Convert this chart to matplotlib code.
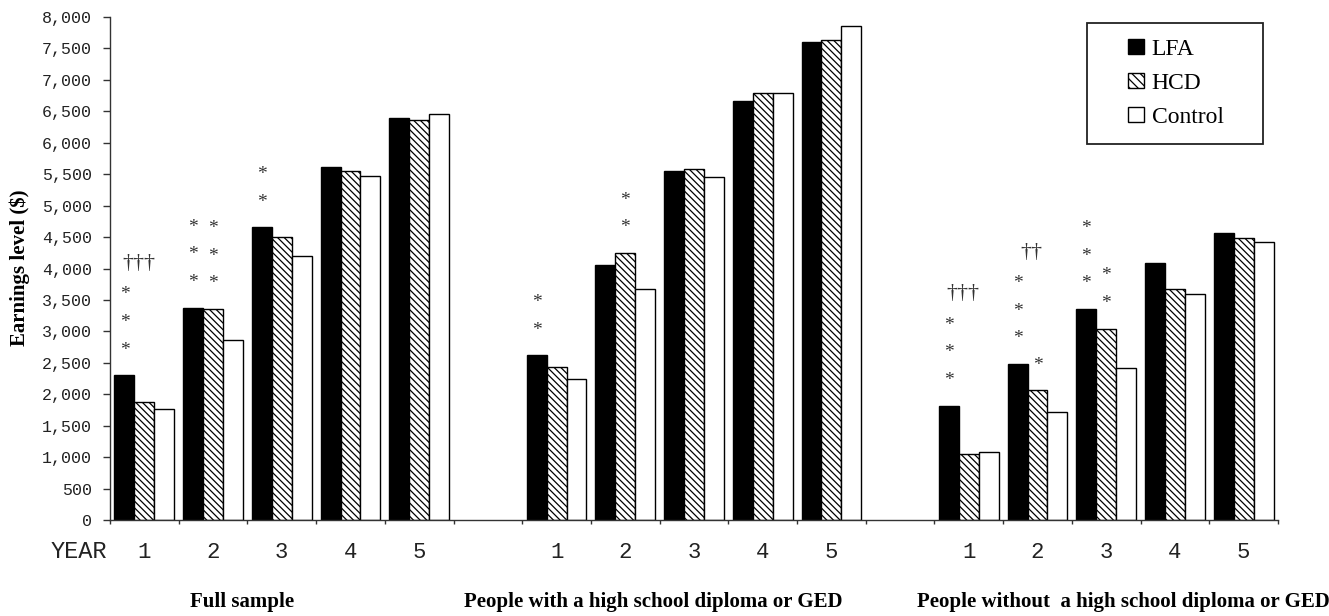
import matplotlib
matplotlib.use("Agg")
import matplotlib.pyplot as plt
import numpy as np
from matplotlib.patches import Patch, Rectangle
from matplotlib.transforms import blended_transform_factory

# ---------------- data ----------------
groups = ["Full sample",
          "People with a high school diploma or GED",
          "People without  a high school diploma or GED"]
years = ["1", "2", "3", "4", "5"]
series = ["LFA", "HCD", "Control"]

lfa_full = [2300, 3375, 4655, 5610, 6395]
hcd_full = [1870, 3355, 4505, 5550, 6360]
ctl_full = [1760, 2860, 4195, 5470, 6455]

lfa_hs = [2620, 4060, 5555, 6665, 7605]
hcd_hs = [2440, 4245, 5580, 6795, 7630]
ctl_hs = [2245, 3680, 5460, 6795, 7855]

lfa_nohs = [1820, 2480, 3355, 4085, 4570]
hcd_nohs = [1050, 2060, 3045, 3680, 4485]
ctl_nohs = [1080, 1715, 2420, 3590, 4420]

yticks = list(range(0, 8001, 500))

# significance marks: (group index, year index, series index, number of stars)
stars = [
    (0, 0, 0, 3), (0, 1, 0, 3), (0, 1, 1, 3), (0, 2, 0, 2),
    (1, 0, 0, 2), (1, 1, 1, 2),
    (2, 0, 0, 3), (2, 1, 0, 3), (2, 1, 1, 1), (2, 2, 0, 3), (2, 2, 1, 2),
]
# daggers: (group index, year index, text)
daggers = [(0, 0, "\u2020\u2020\u2020"), (2, 0, "\u2020\u2020\u2020"), (2, 1, "\u2020\u2020")]

data = [
    [lfa_full, hcd_full, ctl_full],
    [lfa_hs, hcd_hs, ctl_hs],
    [lfa_nohs, hcd_nohs, ctl_nohs],
]

# ---------------- figure ----------------
W, H = 1329, 616
plt.rcParams['hatch.linewidth'] = 0.9
fig = plt.figure(figsize=(W / 100, H / 100), dpi=100)
ax = fig.add_axes([110 / W, 96 / H, 1168 / W, 503 / H])

serif = "Liberation Serif"
mono = "Liberation Mono"

w = 0.29
group_start = [0, 6, 12]
styles = [dict(color="black", edgecolor="black"),
          dict(color="white", edgecolor="black", hatch="\\\\\\\\\\"),
          dict(color="white", edgecolor="black")]

for g, gs in enumerate(group_start):
    x = gs + np.arange(5) + 0.5
    for s in range(3):
        ax.bar(x + (s - 1) * w, data[g][s], width=w, linewidth=1.0, **styles[s])

# significance annotations
star_gap = 440
star_off = 400
for g, yi, s, n in stars:
    xc = group_start[g] + yi + 0.5 + (s - 1) * w
    base = data[g][s][yi] + star_off
    for k in range(n):
        ax.text(xc, base + k * star_gap, "*", ha="center", va="center",
                fontsize=14, family=serif, color="#333333")

for g, yi, txt in daggers:
    xc = group_start[g] + yi + 0.5 - 0.3 * w
    nstar = max(n for gg, yy, ss, n in stars if gg == g and yy == yi and ss == 0)
    top = data[g][0][yi] + star_off + (nstar - 1) * star_gap + 500
    ax.text(xc, top, txt, ha="center", va="center",
            fontsize=16, family=serif, color="#333333")

ax.set_xlim(0, 17)
ax.set_ylim(0, 8000)
ax.set_yticks(yticks)
ax.set_yticklabels([f"{v:,}" for v in yticks], family=mono, fontsize=12, color="#222222")
ax.tick_params(axis="y", length=5, width=1, pad=8, color="#333333")

ax.set_xticks(np.arange(0, 18))
ax.set_xticklabels([])
ax.tick_params(axis="x", which="major", length=3, width=1, direction="out", color="#333333")

# year labels under each category
tr = blended_transform_factory(ax.transData, ax.transAxes)
for gs in group_start:
    for i, yl in enumerate(years):
        ax.text(gs + i + 0.5, -33 / 503, yl, transform=tr, ha="center", va="center",
                family=mono, fontsize=16, color="#222222", clip_on=False)

for sp in ["top", "right"]:
    ax.spines[sp].set_visible(False)
for sp in ["left", "bottom"]:
    ax.spines[sp].set_linewidth(1.0)
    ax.spines[sp].set_color("#333333")

# y label
fig.text(20 / W, 1 - 268 / H, "Earnings level ($)", rotation=90, ha="center", va="center",
         family=serif, fontweight="bold", fontsize=15)

# YEAR label
fig.text(79 / W, 1 - 552 / H, "YEAR", family=mono, fontsize=17, ha="center", va="center",
         color="#222222")

# group labels
gy = 1 - 602 / H
fig.text(242 / W, gy, groups[0], ha="center", va="center",
         family=serif, fontweight="bold", fontsize=15)
fig.text(653 / W, gy, groups[1], ha="center", va="center",
         family=serif, fontweight="bold", fontsize=15)
fig.text(917 / W, gy, groups[2], ha="left", va="center",
         family=serif, fontweight="bold", fontsize=15)

# legend: frame drawn as a rectangle, entries placed inside
box = Rectangle((1087 / W, 1 - 144 / H), 176 / W, 121 / H, transform=fig.transFigure,
                facecolor="white", edgecolor="#222222", linewidth=1.3, zorder=5)
fig.patches.append(box)
handles = [Patch(facecolor="black", edgecolor="black"),
           Patch(facecolor="white", edgecolor="black", hatch="\\\\\\\\"),
           Patch(facecolor="white", edgecolor="black")]
leg = fig.legend(handles, series, loc="center", bbox_to_anchor=(1176 / W, 1 - 83.5 / H),
                 prop={"family": serif, "size": 17}, frameon=False,
                 handlelength=0.65, handleheight=0.6, handletextpad=0.35,
                 labelspacing=0.55, borderpad=0.2)
leg.set_zorder(6)

fig.savefig("out.png", dpi=100)
